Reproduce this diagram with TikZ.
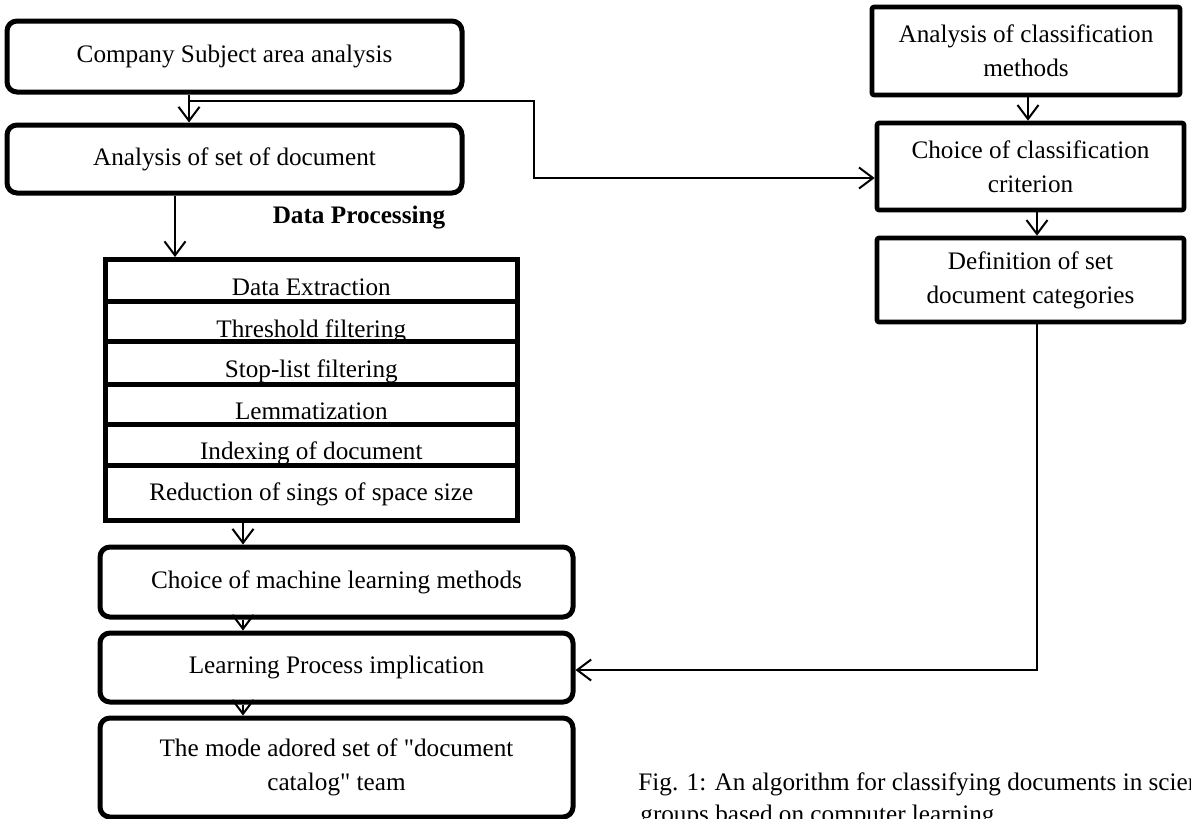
\documentclass[tikz,border=0pt]{standalone}
\usepackage{fontspec}
\setmainfont{Liberation Serif}[Ligatures=TeXOff]
\usetikzlibrary{arrows.meta,calc}
\begin{document}
\begin{tikzpicture}[x=0.5pt,y=-0.5pt,
  every node/.style={font=\fontsize{12.6}{17}\selectfont},
  rbox/.style={draw, line width=2.5pt, rounded corners=5pt, fill=white, align=center, inner sep=0pt},
  sbox/.style={draw, line width=2.3pt, rounded corners=1pt, fill=white, align=center, inner sep=0pt},
  row/.style={draw, line width=2.3pt, fill=white, anchor=north west, minimum width=206pt, inner sep=0pt},
  conn/.style={line width=1pt},
  arr/.style={conn, -{Straight Barb[length=7pt,width=10.5pt]}},
]
\useasboundingbox (0,0) rectangle (1191,819);

% left column
\node[rbox, minimum width=227.5pt, minimum height=35.5pt] (b1) at (234.5,56.5) {Company Subject area analysis};
\node[rbox, minimum width=227.5pt, minimum height=34pt] (b2) at (234.5,159) {Analysis of set of document};
\node[font=\fontsize{12.6}{17}\selectfont\bfseries] (dp) at (359,218) {Data Processing};

% processing stack
\node[row, text height=18pt, text depth=3pt] (r1) at (103,257) {Data Extraction};
\node[row, text height=18pt, text depth=2pt] (r2) at (103,299) {Threshold filtering};
\node[row, text height=18pt, text depth=3.5pt] (r3) at (103,339) {Stop-list filtering};
\node[row, text height=17.5pt, text depth=2.5pt] (r4) at (103,382) {Lemmatization};
\node[row, text height=17.5pt, text depth=3pt] (r5) at (103,422) {Indexing of document};
\node[row, text height=17.5pt, text depth=10pt] (r6) at (103,463) {Reduction of sings of space size};

\node[rbox, minimum width=236.5pt, minimum height=35pt] (m1) at (336.5,582) {Choice of machine learning methods};
\node[rbox, minimum width=236.5pt, minimum height=34.5pt] (m2) at (336.5,667.5) {Learning Process implication};
\node[rbox, minimum width=236.5pt, minimum height=49.5pt] (m3) at (336.5,767.5) {The mode adored set of "document\\catalog" team};

% right column
\node[sbox, minimum width=154pt, minimum height=44pt] (a) at (1026,51) {Analysis of classification\\methods};
\node[sbox, minimum width=153.5pt, minimum height=43.5pt] (bb) at (1030.5,166.5) {Choice of classification\\criterion};
\node[sbox, minimum width=153.5pt, minimum height=42pt] (cc) at (1030.5,280) {Definition of set\\document categories};

% caption (cut by the right and bottom edges, as in the reference)
\node[anchor=base west, inner sep=0pt] (cap1) at (638,790) {Fig. 1: An algorithm for classifying documents in scientific};
\node[anchor=base west, inner sep=0pt] (cap2) at (640,822) {groups based on computer learning};

% helper coordinates
\coordinate (x1) at (189,0);
\coordinate (x2) at (175,0);
\coordinate (x3) at (243,0);
\coordinate (x4) at (1028,0);
\coordinate (x5) at (1037,0);
\coordinate (j) at (189,101);
\coordinate (k1) at (534,101);
\coordinate (k2) at (534,178);
\coordinate (c3) at (1037,670);

% connectors
\draw[arr] (b1.south -| x1) -- (b2.north -| x1);
\draw[arr] (j) -- (k1) -- (k2) -- (k2 -| bb.west);
\draw[arr] (b2.south -| x2) -- (r1.north -| x2);
\draw[arr] (r6.south -| x3) -- (m1.north -| x3);
\draw[arr] (m1.south -| x3) -- (m2.north -| x3);
\draw[arr] (m2.south -| x3) -- (m3.north -| x3);
\draw[arr] (a.south -| x4) -- (bb.north -| x4);
\draw[arr] (bb.south -| x5) -- (cc.north -| x5);
\draw[arr] (cc.south -| x5) -- (c3) -- (c3 -| m2.east);
\end{tikzpicture}
\end{document}
